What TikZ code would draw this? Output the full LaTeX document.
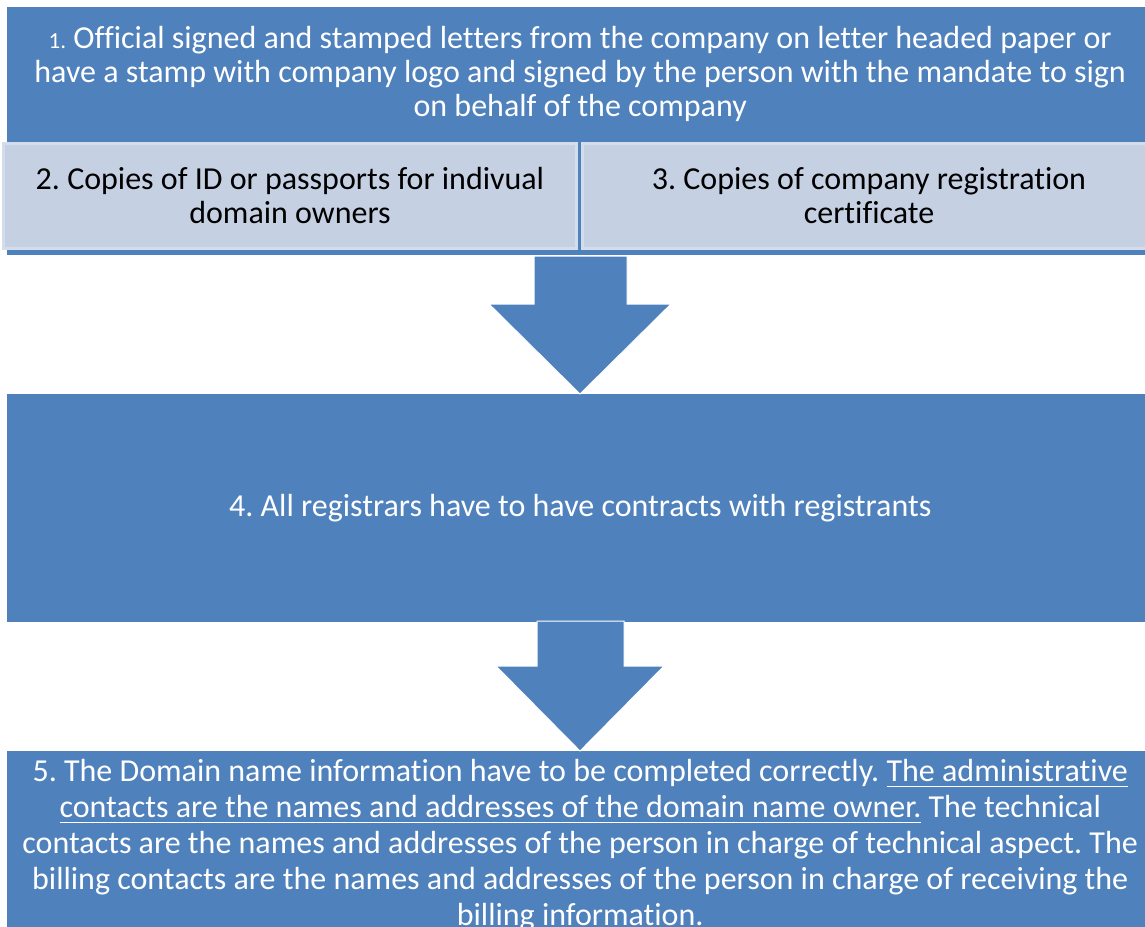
\documentclass[tikz,border=0pt]{standalone}
\usepackage{fontspec}
\setmainfont[Ligatures={NoCommon}]{Carlito}
\frenchspacing
\newsavebox\ulbox
\newcommand\myuline[1]{\sbox\ulbox{#1}\rlap{\usebox\ulbox}\rule[-6pt]{\wd\ulbox}{1.8pt}}
\definecolor{blu}{RGB}{79,129,189}
\definecolor{lite}{RGB}{197,208,227}
\definecolor{liteb}{RGB}{212,221,235}
\tikzset{
  bluebox/.style={fill=blu, draw=none, text=white, align=center, inner sep=0pt,
    font=\fontsize{32}{34}\selectfont\frenchspacing},
  litebox/.style={fill=lite, draw=liteb, line width=3pt, text=black, align=center, inner sep=0pt,
    font=\fontsize{32}{34}\selectfont\frenchspacing},
  blockarrow/.style={fill=blu, draw=white, line width=1pt, line join=miter}
}
\begin{document}
\begin{tikzpicture}[x=1pt,y=-1pt]
\useasboundingbox (0,0) rectangle (1145,926);
\fill[white] (0,0) rectangle (1145,926);
% strip of box 1 behind boxes 2 and 3
\fill[blu] (7,140) rectangle (1160,255);
\node[bluebox, minimum width=1146pt, minimum height=134pt, anchor=north west] (b1) at (7,7)
  {{\fontsize{23}{23}\selectfont 1.} Official signed and stamped letters from the company on letter headed paper or\\
   have a stamp with company logo and signed by the person with the mandate to sign\\
   on behalf of the company};
\node[litebox, minimum width=573pt, minimum height=105pt] (b2) at (290,196)
  {2. Copies of ID or passports for indivual\\ domain owners};
\node[litebox, minimum width=573pt, minimum height=105pt] (b3) at (869,196)
  {3. Copies of company registration\\ certificate};
\node[bluebox, minimum width=1146pt, minimum height=228pt, anchor=north west] (b4) at (7,394)
  {4. All registrars have to have contracts with registrants};
\node[bluebox, minimum width=1146pt, inner ysep=8pt, anchor=north west,
  font=\fontsize{32}{36}\selectfont\frenchspacing] (b5) at (7,751)
  {5. The Domain name information have to be completed correctly. \myuline{The administrative}\\
   \myuline{contacts are the names and addresses of the domain name owner.} The technical\\
   contacts are the names and addresses of the person in charge of technical aspect. The\\
   billing contacts are the names and addresses of the person in charge of receiving the\\
   billing information.};
% arrows
\draw[blockarrow] (b4.north -| 580,0) -- ++(-91,-90) -- ++(45,0) -- ++(0,-48) -- ++(93,0)
   -- ++(0,48) -- ++(44,0) -- cycle;
\draw[blockarrow] (b5.north -| 580,0) -- ++(-84,-85) -- ++(41,0) -- ++(0,-45) -- ++(87,0)
   -- ++(0,45) -- ++(40,0) -- cycle;
\end{tikzpicture}
\end{document}
